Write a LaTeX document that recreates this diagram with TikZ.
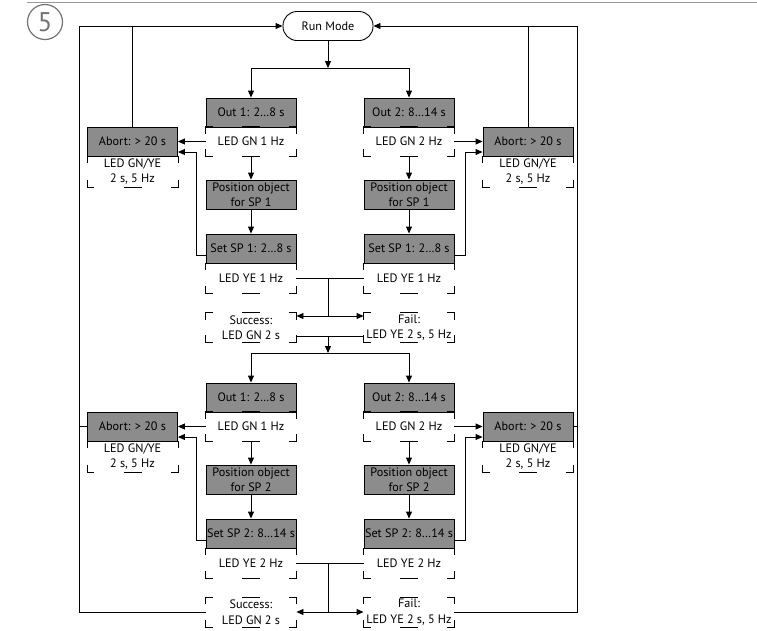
\documentclass[tikz,border=0pt]{standalone}
\usepackage{fontspec}
\setmainfont{PT Sans}
\usetikzlibrary{arrows.meta}

\begin{document}
\begin{tikzpicture}[x=1pt,y=-1pt,line width=0.9pt,
  >={Triangle[length=7pt,width=6pt]},
  every node/.style={font=\fontsize{12.2}{15.5}\selectfont},
  state/.style={draw,fill=black!45,minimum width=90pt,minimum height=29pt,inner sep=0pt,align=center},
  led/.style={minimum width=90pt,minimum height=29pt,inner sep=0pt,align=center}]
\useasboundingbox (0,0) rectangle (757,630);
\draw[black!40,line width=1pt] (27,2) -- (757,2);
\node[circle,draw=black!55,text=black!55,line width=1.2pt,minimum size=35pt,inner sep=0pt,
  font=\fontsize{27}{27}\selectfont] (num) at (45,22) {5};

\node[draw,minimum width=90pt,minimum height=29pt,rounded corners=14pt] (run) at (328,26) {Run Mode};

% first pass
\node[state] (out1a) at (251,112.5) {Out 1: 2…8 s};
\node[led] (gn1a) at (251,141.5) {LED GN 1 Hz};
\node[state] (pos1a) at (251,194.5) {Position object\\for SP 1};
\node[state] (set1a) at (251,248.5) {Set SP 1: 2…8 s};
\node[led] (ye1a) at (251,278) {LED YE 1 Hz};
\node[led] (oka) at (251,327.5) {Success:\\LED GN 2 s};
\node[state] (out2a) at (409,112.5) {Out 2: 8…14 s};
\node[led] (gn2a) at (409,141.5) {LED GN 2 Hz};
\node[state] (pos2a) at (409,194.5) {Position object\\for SP 1};
\node[state] (set2a) at (409,248.5) {Set SP 1: 2…8 s};
\node[led] (ye2a) at (409,278) {LED YE 1 Hz};
\node[led] (faila) at (409,327.5) {Fail:\\LED YE 2 s, 5 Hz};
\node[state] (abla) at (132.5,141.5) {Abort: > 20 s};
\node[led,minimum height=30pt] (warnla) at (132.5,171.5) {LED GN/YE\\2 s, 5 Hz};
\node[state] (abra) at (528,141.5) {Abort: > 20 s};
\node[led,minimum height=30pt] (warnra) at (528,171.5) {LED GN/YE\\2 s, 5 Hz};

% second pass
\node[state] (out1b) at (251,397.5) {Out 1: 2…8 s};
\node[led] (gn1b) at (251,426.5) {LED GN 1 Hz};
\node[state] (pos1b) at (251,479.5) {Position object\\for SP 2};
\node[state] (set1b) at (251,533.5) {Set SP 2: 8…14 s};
\node[led] (ye1b) at (251,563) {LED YE 2 Hz};
\node[led] (okb) at (251,612) {Success:\\LED GN 2 s};
\node[state] (out2b) at (409,397.5) {Out 2: 8…14 s};
\node[led] (gn2b) at (409,426.5) {LED GN 2 Hz};
\node[state] (pos2b) at (409,479.5) {Position object\\for SP 2};
\node[state] (set2b) at (409,533.5) {Set SP 2: 8…14 s};
\node[led] (ye2b) at (409,563) {LED YE 2 Hz};
\node[led] (failb) at (409,612) {Fail:\\LED YE 2 s, 5 Hz};
\node[state] (ablb) at (132.5,426.5) {Abort: > 20 s};
\node[led,minimum height=30pt] (warnlb) at (132.5,456.5) {LED GN/YE\\2 s, 5 Hz};
\node[state] (abrb) at (528,426.5) {Abort: > 20 s};
\node[led,minimum height=30pt] (warnrb) at (528,456.5) {LED GN/YE\\2 s, 5 Hz};

% broken frames of the LED states
\foreach \n in {gn1a,gn2a,ye1a,ye2a,oka,faila,warnla,warnra,
                gn1b,gn2b,ye1b,ye2b,okb,failb,warnlb,warnrb} {
  \draw ([yshift=-7pt]\n.north west) -- (\n.north west) -- ([xshift=7pt]\n.north west);
  \draw ([yshift=-7pt]\n.north east) -- (\n.north east) -- ([xshift=-7pt]\n.north east);
  \draw ([yshift=7pt]\n.south west) -- (\n.south west) -- ([xshift=7pt]\n.south west);
  \draw ([yshift=7pt]\n.south east) -- (\n.south east) -- ([xshift=-7pt]\n.south east);
  \draw ([xshift=-9pt]\n.north) -- ([xshift=9pt]\n.north);
  \draw ([xshift=-9pt]\n.south) -- ([xshift=9pt]\n.south);
}

\coordinate (splita) at (328,68);
\coordinate (joina) at (328,316);
\coordinate (mergea) at (328,336);
\coordinate (splitb) at (328,353);
\coordinate (joinb) at (328,612);
\coordinate (lloop) at (79,612);
\coordinate (rloop) at (577,612);

\draw[->] (run) -- (splita);
\draw[->] (splita) -| (out1a);
\draw[->] (splita) -| (out2a);
\draw[->] (gn1a) -- (pos1a);
\draw[->] (pos1a) -- (set1a);
\draw[->] (gn2a) -- (pos2a);
\draw[->] (pos2a) -- (set2a);
\draw[->] (gn1a) -- (abla);
\draw[->] (gn2a) -- (abra);
\draw[->] ([yshift=-7pt]set1a.west) -- ++(-9,0) |- ([yshift=-10.5pt]abla.east);
\draw[->] ([yshift=-7pt]set2a.east) -- ++(11,0) |- ([yshift=-10.5pt]abra.west);
\draw (abla) -- (abla |- run);
\draw (abra) -- (abra |- run);
\draw (ye1a) -- (ye2a);
\draw (joina |- ye1a) -- (joina);
\draw[->] (joina) -- (joina -| oka.east);
\draw[->] (joina) -- (joina -| faila.west);
\draw ([yshift=-8.5pt]oka.east) -- ([yshift=-8.5pt]faila.west);
\draw[->] (mergea) -- (splitb);

\draw[->] (splitb) -| (out1b);
\draw[->] (splitb) -| (out2b);
\draw[->] (gn1b) -- (pos1b);
\draw[->] (pos1b) -- (set1b);
\draw[->] (gn2b) -- (pos2b);
\draw[->] (pos2b) -- (set2b);
\draw[->] (gn1b) -- (ablb);
\draw[->] (gn2b) -- (abrb);
\draw[->] ([yshift=-7pt]set1b.west) -- ++(-9,0) |- ([yshift=-10.5pt]ablb.east);
\draw[->] ([yshift=-7pt]set2b.east) -- ++(11,0) |- ([yshift=-10.5pt]abrb.west);
\draw (ablb) -- (ablb -| lloop);
\draw (abrb) -- (abrb -| rloop);
\draw (ye1b) -- (ye2b);
\draw (joinb |- ye1b) -- (joinb);
\draw[->] (joinb) -- (okb);
\draw[->] (joinb) -- (failb);

\draw[->] (okb) -- (lloop) |- (run);
\draw[->] (failb) -- (rloop) |- (run);
\end{tikzpicture}
\end{document}
